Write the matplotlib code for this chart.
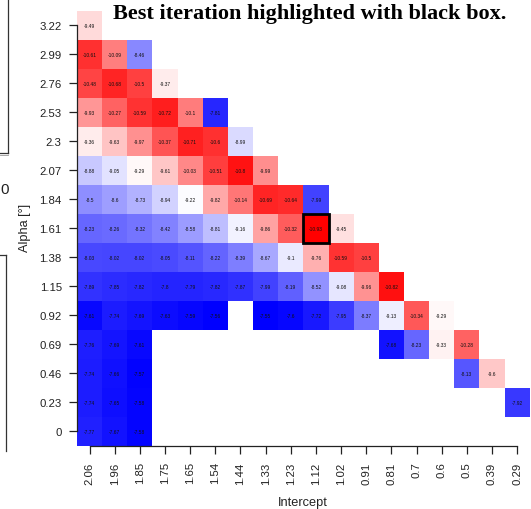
import numpy as np
import matplotlib
matplotlib.use('Agg')
import matplotlib.pyplot as plt
from matplotlib.colors import Normalize
from matplotlib.patches import Rectangle
from matplotlib.lines import Line2D

nan = np.nan

intercepts = ['2.06', '1.96', '1.85', '1.75', '1.65', '1.54', '1.44', '1.33', '1.23',
              '1.12', '1.02', '0.91', '0.81', '0.7', '0.6', '0.5', '0.39', '0.29']
alphas = ['0', '0.23', '0.46', '0.69', '0.92', '1.15', '1.38', '1.61', '1.84',
          '2.07', '2.3', '2.53', '2.76', '2.99', '3.22']

# rows listed from alpha = 3.22 (top) down to alpha = 0 (bottom)
row_322 = [-9.49]
row_299 = [-10.61, -10.09, -8.46]
row_276 = [-10.48, -10.68, -10.5, -9.37]
row_253 = [-9.93, -10.27, -10.59, -10.72, -10.1, -7.81]
row_230 = [-9.36, -9.63, -9.97, -10.37, -10.71, -10.6, -8.99]
row_207 = [-8.88, -9.05, -9.29, -9.61, -10.03, -10.51, -10.8, -9.99]
row_184 = [-8.5, -8.6, -8.73, -8.94, -9.22, -9.82, -10.14, -10.69, -10.64, -7.99]
row_161 = [-8.23, -8.26, -8.32, -8.42, -8.58, -8.81, -9.16, -9.86, -10.32, -10.93, -9.45]
row_138 = [-8.03, -8.02, -8.02, -8.05, -8.11, -8.22, -8.39, -8.67, -9.1, -9.76, -10.59, -10.5]
row_115 = [-7.89, -7.85, -7.82, -7.8, -7.79, -7.82, -7.87, -7.99, -8.19, -8.52, -9.08, -9.96, -10.82]
row_092 = [-7.61, -7.74, -7.69, -7.63, -7.59, -7.56, nan, -7.55, -7.6, -7.72, -7.95, -8.37,
           -9.13, -10.34, -9.29]
row_069 = [-7.76, -7.69, -7.61, nan, nan, nan, nan, nan, nan, nan, nan, nan,
           -7.68, -8.23, -9.33, -10.28]
row_046 = [-7.74, -7.66, -7.57, nan, nan, nan, nan, nan, nan, nan, nan, nan,
           nan, nan, nan, -8.13, -9.6]
row_023 = [-7.74, -7.65, -7.58, nan, nan, nan, nan, nan, nan, nan, nan, nan,
           nan, nan, nan, nan, nan, -7.92]
row_000 = [-7.77, -7.67, -7.58]

best_alpha = '1.61'
best_intercept = '1.12'

rows_bottom_up = [row_000, row_023, row_046, row_069, row_092, row_115, row_138,
                  row_161, row_184, row_207, row_230, row_253, row_276, row_299, row_322]

ncol = len(intercepts)
nrow = len(alphas)
grid = np.full((nrow, ncol), nan)
for i, r in enumerate(rows_bottom_up):
    grid[i, :len(r)] = r

W, H = 531, 510
fig = plt.figure(figsize=(W / 100, H / 100), dpi=100)

def fx(x):
    return x / W

def fy(y):
    return 1 - y / H

ax = fig.add_axes([fx(77), fy(447), (529.7 - 77) / W, (447 - 11.5) / H])
Z = np.ma.masked_invalid(grid)
vmin, vmax = np.nanmin(grid), np.nanmax(grid)
ax.pcolormesh(np.arange(ncol + 1) - 0.5, np.arange(nrow + 1) - 0.5, Z,
              cmap='bwr_r', norm=Normalize(vmin=vmin, vmax=vmax))
ax.set_xlim(-0.5, ncol - 0.5)
ax.set_ylim(-0.5, nrow - 0.5)

for i in range(nrow):
    for j in range(ncol):
        v = grid[i, j]
        if not np.isnan(v):
            ax.text(j, i, f"{v:g}", ha='center', va='center', fontsize=3.5,
                    color='#111111', family='Liberation Sans')

bi = alphas.index(best_alpha)
bj = intercepts.index(best_intercept)
ax.add_patch(Rectangle((bj - 0.5, bi - 0.5), 1, 1, fill=False, lw=2.0, ec='black',
                       zorder=5))

for s in ['top', 'right']:
    ax.spines[s].set_visible(False)
ax.spines['left'].set_bounds(0, nrow - 1)
ax.spines['bottom'].set_bounds(0, ncol - 1)
for s in ['left', 'bottom']:
    ax.spines[s].set_linewidth(0.9)
    ax.spines[s].set_color('#222222')

ax.set_xticks(range(ncol))
ax.set_xticklabels(intercepts, rotation=90, family='Liberation Sans', fontsize=8.2,
                   color='#222222')
ax.set_yticks(range(nrow))
ax.set_yticklabels(alphas, family='Liberation Sans', fontsize=8.2, color='#222222')
ax.tick_params(axis='y', direction='out', length=6, width=0.9, pad=5, colors='#222222')
ax.tick_params(axis='x', direction='out', length=5.5, width=0.9, pad=5.5, colors='#222222')

fig.text(fx(303), fy(503), 'Intercept', ha='center', va='center',
         family='Liberation Sans', fontsize=9.2, color='#222222')
fig.text(fx(25), fy(228), 'Alpha [°]', ha='center', va='center', rotation=90,
         family='Liberation Sans', fontsize=9.2, color='#222222')
fig.text(fx(310), fy(14.5), 'Best iteration highlighted with black box.', ha='center',
         va='center', family='Liberation Serif', fontweight='bold', fontsize=16)

# remnants of neighbouring panels at the left edge
fig.add_artist(Line2D([fx(7.5), fx(7.5)], [fy(0), fy(154)], color='#333333', lw=0.9))
fig.add_artist(Line2D([fx(0), fx(7.5)], [fy(154), fy(154)], color='#333333', lw=0.9))
fig.add_artist(Line2D([fx(0), fx(7.5)], [fy(156), fy(156)], color='#999999', lw=0.6))
fig.add_artist(Line2D([fx(0), fx(6)], [fy(256), fy(256)], color='#333333', lw=0.9))
fig.add_artist(Line2D([fx(6), fx(6)], [fy(256), fy(452)], color='#333333', lw=0.9))
fig.text(fx(9), fy(190), '0', ha='right', va='center', family='Liberation Sans',
         fontsize=11, color='#222222')

fig.savefig('out.png', dpi=100)
